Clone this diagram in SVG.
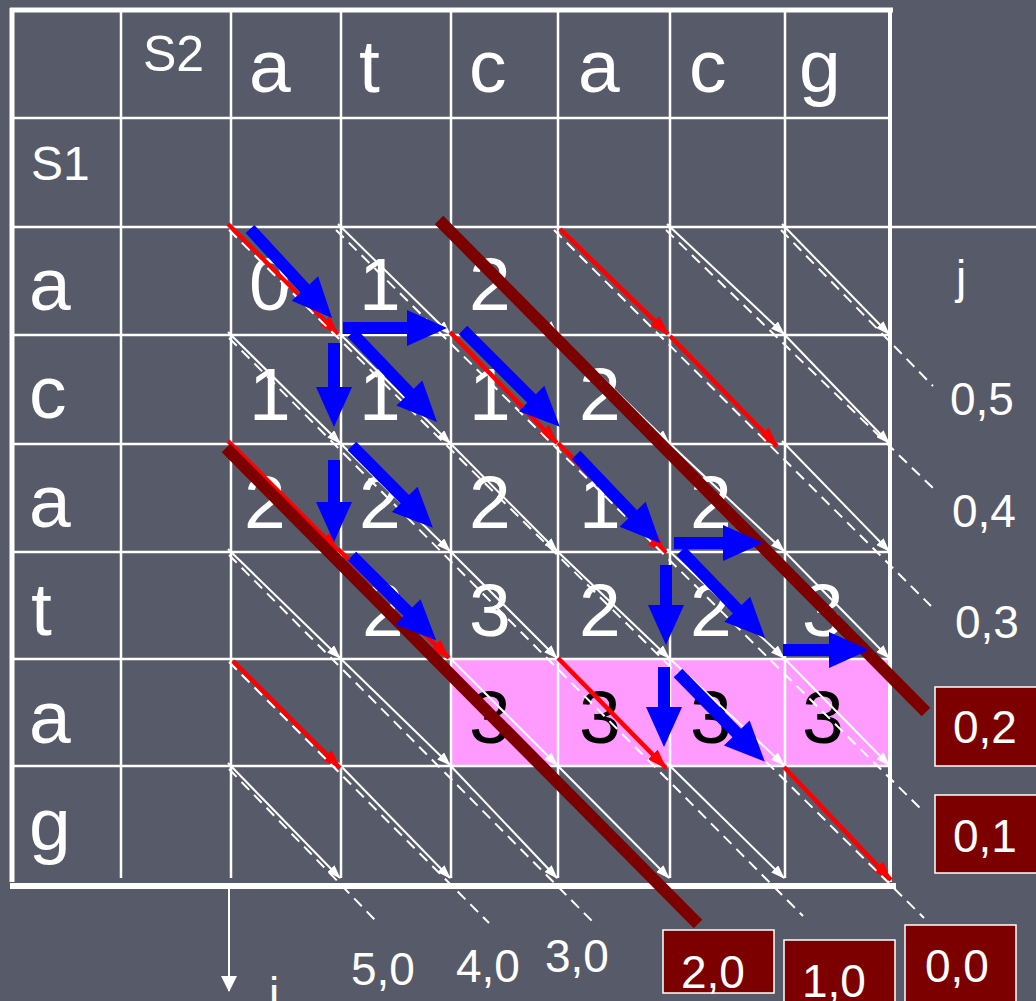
<svg xmlns="http://www.w3.org/2000/svg" width="1036" height="1001" viewBox="0 0 1036 1001">
<defs>
<style>
.t{font-family:"Liberation Sans",Arial,sans-serif;fill:#fff}
.big{font-size:75px}
.lab{font-size:46px}
.g1{stroke:#fff;stroke-width:2.5;fill:none}
.w{stroke:#fff;stroke-width:2;fill:none;marker-end:url(#mw)}
.r{stroke:#f00;stroke-width:4.5;fill:none;marker-end:url(#mr)}
.d{stroke:#fff;stroke-width:2;fill:none;stroke-dasharray:11 7}
.b{fill:#0000ff}
.m{stroke:#7d0000;stroke-width:12;fill:none}
.box{fill:#7d0000;stroke:#fff;stroke-width:1.5}
</style>
<marker id="mw" viewBox="0 0 14 10" refX="13" refY="5" markerWidth="14" markerHeight="10" markerUnits="userSpaceOnUse" orient="auto"><path d="M0,0L14,5L0,10z" fill="#fff"/></marker>
<marker id="mr" viewBox="0 0 20 14" refX="19" refY="7" markerWidth="20" markerHeight="14" markerUnits="userSpaceOnUse" orient="auto"><path d="M0,0L20,7L0,14z" fill="#f00"/></marker>
<marker id="mi" viewBox="0 0 16 16" refX="15" refY="8" markerWidth="16" markerHeight="16" markerUnits="userSpaceOnUse" orient="auto"><path d="M0,0L16,8L0,16z" fill="#fff"/></marker>
</defs>
<rect width="1036" height="1001" fill="#575a68"/>

<g id="highlight">
<rect x="451" y="659" width="439" height="107" fill="#ff9bff"/>
</g>

<g id="grid">
<path class="g1" d="M12,118H890M12,335H890M12,444H890M12,552H890M12,659H890M12,766H890"/>
<path class="g1" d="M12,227H1036"/>
<path class="g1" d="M121,10V878M231,10V878M341,10V878M451,10V878M558,10V878M670,10V878M785,10V878"/>
<path stroke="#fff" stroke-width="5" fill="none" d="M10,10H893M12,8V882"/>
<path stroke="#fff" stroke-width="4" fill="none" d="M890,8V882"/>
<path stroke="#fff" stroke-width="6" fill="none" d="M10,886H896"/>
</g>

<g id="headers" class="t big">
<text x="143" y="71" style="font-size:50px">S2</text>
<text x="249" y="92">a</text>
<text x="359" y="92">t</text>
<text x="469" y="92">c</text>
<text x="578" y="92">a</text>
<text x="689" y="92">c</text>
<text x="799" y="92">g</text>
<text x="31" y="180" style="font-size:48px">S1</text>
<text x="29" y="310">a</text>
<text x="29" y="418">c</text>
<text x="29" y="527">a</text>
<text x="31" y="635">t</text>
<text x="29" y="743">a</text>
<text x="29" y="850">g</text>
</g>

<g id="cells" class="t big">
<text x="249" y="310">0</text>
<text x="359" y="310">1</text>
<text x="469" y="310">2</text>
<text x="249" y="420">1</text>
<text x="359" y="420">1</text>
<text x="469" y="420">1</text>
<text x="579" y="420">2</text>
<text x="244" y="528">2</text>
<text x="359" y="528">2</text>
<text x="469" y="528">2</text>
<text x="579" y="528">1</text>
<text x="690" y="528">2</text>
<text x="362" y="636">2</text>
<text x="469" y="636">3</text>
<text x="579" y="636">2</text>
<text x="690" y="636">2</text>
<text x="802" y="636">3</text>
<g style="fill:#000">
<text x="469" y="743">3</text>
<text x="579" y="743">3</text>
<text x="690" y="743">3</text>
<text x="802" y="743">3</text>
</g>
</g>

<g id="connectors">
<g id="white-arrows">
<path class="w" d="M338,224L450,334"/>
<path class="w" d="M448,224L557,334"/>
<path class="w" d="M667,224L784,334"/>
<path class="w" d="M782,224L889,334"/>
<path class="w" d="M228,332L340,443"/>
<path class="w" d="M338,332L450,443"/>
<path class="w" d="M555,332L669,443"/>
<path class="w" d="M782,332L889,443"/>
<path class="w" d="M338,441L450,551"/>
<path class="w" d="M448,441L557,551"/>
<path class="w" d="M667,441L784,551"/>
<path class="w" d="M782,441L889,551"/>
<path class="w" d="M228,549L340,658"/>
<path class="w" d="M448,549L557,658"/>
<path class="w" d="M555,549L669,658"/>
<path class="w" d="M667,549L784,658"/>
<path class="w" d="M782,549L889,658"/>
<path class="w" d="M338,656L450,765"/>
<path class="w" d="M448,656L557,765"/>
<path class="w" d="M667,656L784,765"/>
<path class="w" d="M782,656L889,765"/>
<path class="w" d="M228,763L340,878"/>
<path class="w" d="M338,763L450,878"/>
<path class="w" d="M448,763L557,878"/>
<path class="w" d="M555,763L669,878"/>
<path class="w" d="M667,763L784,878"/>
</g>
<g id="red-arrows">
<path class="r" d="M228,224L338,334"/>
<path class="r" d="M560,229L668,334"/>
<path class="r" d="M450,332L557,443"/>
<path class="r" d="M670,336L777,446"/>
<path class="r" d="M228,441L338,551"/>
<path class="r" d="M558,443L666,553"/>
<path class="r" d="M338,549L449,658"/>
<path class="r" d="M233,661L340,768"/>
<path class="r" d="M558,658L666,768"/>
<path class="r" d="M784,767L891,880"/>
</g>
<g id="diagonals" transform="translate(-2,3)">
<path class="d" d="M231,227L926,915"/>
<path class="d" d="M338,227L925,808"/>
<path class="d" d="M451,227L905,680"/>
<path class="d" d="M556,227L933,603"/>
<path class="d" d="M668,227L937,487"/>
<path class="d" d="M783,227L935,383"/>
<path class="d" d="M231,335L805,913"/>
<path class="d" d="M231,444L690,915"/>
<path class="d" d="M231,552L598,922"/>
<path class="d" d="M231,659L491,920"/>
<path class="d" d="M231,766L378,918"/>
</g>
<g id="bounds">
<path class="m" d="M439,220L926,712"/>
<path class="m" d="M226,448L698,924"/>
</g>
<g id="path-arrows">
<path class="b" transform="translate(250,229) rotate(47.3)" d="M0,-6H81V-18L121,0L81,18V6H0Z"/>
<path class="b" transform="translate(343,328)" d="M0,-6H64V-18L104,0L64,18V6H0Z"/>
<path class="b" transform="translate(334,343) rotate(90)" d="M0,-6H44V-18L84,0L44,18V6H0Z"/>
<path class="b" transform="translate(352,333) rotate(46.3)" d="M0,-6H83V-18L123,0L83,18V6H0Z"/>
<path class="b" transform="translate(334,460) rotate(90)" d="M0,-6H42V-18L82,0L42,18V6H0Z"/>
<path class="b" transform="translate(352,446) rotate(45.3)" d="M0,-6H75V-18L115,0L75,18V6H0Z"/>
<path class="b" transform="translate(352,556) rotate(45)" d="M0,-6H79V-18L119,0L79,18V6H0Z"/>
<path class="b" transform="translate(463,330) rotate(45)" d="M0,-6H97V-18L137,0L97,18V6H0Z"/>
<path class="b" transform="translate(576,455) rotate(46.3)" d="M0,-6H82V-18L122,0L82,18V6H0Z"/>
<path class="b" transform="translate(674,543)" d="M0,-6H49V-18L89,0L49,18V6H0Z"/>
<path class="b" transform="translate(666,565) rotate(90)" d="M0,-6H40V-18L80,0L40,18V6H0Z"/>
<path class="b" transform="translate(681,551) rotate(46)" d="M0,-6H81V-18L121,0L81,18V6H0Z"/>
<path class="b" transform="translate(783,650)" d="M0,-6H46V-18L86,0L46,18V6H0Z"/>
<path class="b" transform="translate(664,667) rotate(90)" d="M0,-6H40V-18L80,0L40,18V6H0Z"/>
<path class="b" transform="translate(678,673) rotate(45.6)" d="M0,-6H84V-18L124,0L84,18V6H0Z"/>
</g>
<path id="i-axis" d="M229,886V991" stroke="#fff" stroke-width="2" fill="none" marker-end="url(#mi)"/>
</g>

<g id="labels" class="t lab">
<text x="961" y="293" text-anchor="middle">j</text>
<text x="274" y="1010" text-anchor="middle">i</text>
<text x="950" y="415">0,5</text>
<text x="952" y="527">0,4</text>
<text x="955" y="638">0,3</text>
<text x="351" y="985">5,0</text>
<text x="456" y="982">4,0</text>
<text x="545" y="972">3,0</text>
</g>
<g id="label-0-2"><rect class="box" x="935" y="687" width="110" height="79"/><text class="t lab" x="953" y="743">0,2</text></g>
<g id="label-0-1"><rect class="box" x="935" y="795" width="110" height="78"/><text class="t lab" x="953" y="852">0,1</text></g>
<g id="label-2-0"><rect class="box" x="663" y="930" width="111" height="63"/><text class="t lab" x="681" y="988">2,0</text></g>
<g id="label-1-0"><rect class="box" x="784" y="940" width="111" height="70"/><text class="t lab" x="802" y="997">1,0</text></g>
<g id="label-0-0"><rect class="box" x="905" y="925" width="111" height="85"/><text class="t lab" x="925" y="982">0,0</text></g>
</svg>
